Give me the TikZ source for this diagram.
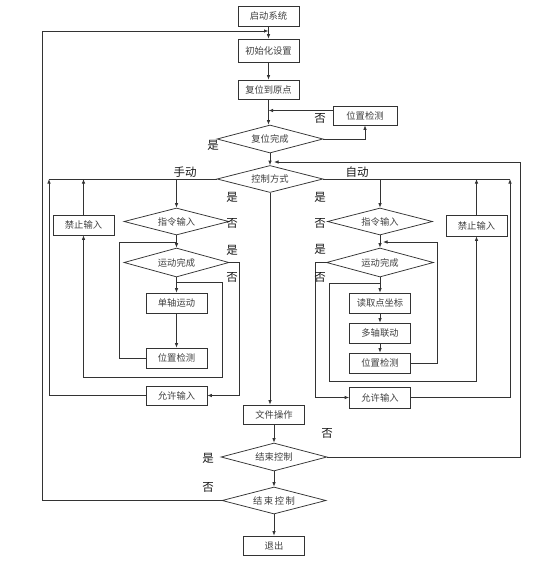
\documentclass[tikz,border=0pt]{standalone}
\usepackage{fontspec}
\newfontfamily\cjk{Noto Sans CJK SC}
\usetikzlibrary{shapes.geometric,arrows.meta}
\begin{document}
\begin{tikzpicture}[x=1pt,y=-1pt,
  line/.style={draw=black!80, line width=0.75pt},
  arr/.style={line, -{Latex[length=4.5pt,width=3.5pt]}},
  box/.style={draw=black!80, line width=0.75pt, rectangle, minimum width=61pt, minimum height=20pt, inner sep=0pt, font=\cjk\fontsize{9.3}{10}\selectfont, text=black!75},
  dia/.style={draw=black!80, line width=0.75pt, diamond, aspect=4, minimum width=106pt, minimum height=28pt, inner sep=0pt, font=\cjk\fontsize{9.3}{10}\selectfont, text=black!75},
  lab/.style={font=\cjk\fontsize{11.5}{12}\selectfont, text=black!90, inner sep=0pt}
]
\fill[white] (0,0) rectangle (552,562);
\useasboundingbox (0,0) rectangle (552,562);

% top column
\node[box] (start) at (268.5,16) {启动系统};
\node[box, minimum height=23pt] (init) at (268.5,50.5) {初始化设置};
\node[box, minimum height=19pt] (reset) at (268.5,89.5) {复位到原点};
\node[box, minimum width=64pt, minimum height=19pt] (pc0) at (365,115.5) {位置检测};
\node[dia] (d1) at (270,139) {复位完成};
\node[dia, minimum height=27pt] (d2) at (270,179) {控制方式};

% left column
\node[dia, minimum width=105pt, minimum height=27pt] (dL1) at (176.5,221.5) {指令输入};
\node[dia, minimum width=105pt, minimum height=29pt] (dL2) at (176.5,262.5) {运动完成};
\node[box] (forbidL) at (83.5,225) {禁止输入};
\node[box] (axisL) at (176.5,303) {单轴运动};
\node[box] (posL) at (176.5,358) {位置检测};
\node[box, minimum height=19pt] (allowL) at (176.5,395.5) {允许输入};

% right column
\node[dia, minimum width=105pt, minimum height=27pt] (dR1) at (380,221.5) {指令输入};
\node[dia, minimum width=107pt, minimum height=29pt] (dR2) at (380,262.5) {运动完成};
\node[box, minimum height=21pt] (forbidR) at (476.5,225.5) {禁止输入};
\node[box] (readR) at (380,303) {读取点坐标};
\node[box] (multiR) at (380,333) {多轴联动};
\node[box] (posR) at (380,363) {位置检测};
\node[box, minimum height=21pt] (allowR) at (380,397.5) {允许输入};

% bottom column
\node[box, minimum height=19pt] (file) at (274,414.5) {文件操作};
\node[dia] (dE1) at (274,457) {结束控制};
\node[dia, minimum width=104pt, minimum height=27pt] (dE2) at (274,500.5) {结\,束\,控\,制};
\node[box, minimum height=19pt] (exit) at (274,545.5) {退出};

% coordinates
\coordinate (pcin) at ([yshift=5pt]pc0.west);
\coordinate (rtop) at (520,162);
\coordinate (lo1) at (49,179);
\coordinate (jL) at (176.5,179);
\coordinate (lpL) at (119,242);
\coordinate (bL) at (176.5,282);
\coordinate (cL) at (222,377);
\coordinate (ro1) at (510,179);
\coordinate (jR) at (380,179);
\coordinate (lpR) at (437,242);
\coordinate (bR) at (380,283);
\coordinate (cR) at (329,381);
\coordinate (lo2) at (42,31);

% top connectors
\draw[arr] (start) -- (init);
\draw[arr] (init) -- (reset);
\draw[arr] (reset.south) -- (reset.south |- d1.north);
\draw[arr] (pcin) -- (pcin -| reset.south);
\draw[arr] (d1.east) -| (pc0.south);
\draw[arr] (d1.south) -- (d2.north);
\draw[arr] (dE1.east) -| (rtop) -- ([xshift=4pt]rtop -| d2.north);

% left connectors
\draw[line] (d2.west) -- (lo1);
\draw[arr] (jL) -- (dL1.north);
\draw[arr] (forbidL.north) -- (forbidL.north |- lo1);
\draw[arr] (allowL.west) -| (lo1);
\draw[arr] (dL1.south) -- (dL2.north);
\draw[line] (posL.west) -| (lpL) -- (lpL -| dL2.north);
\draw[arr] (dL2.east) -- ++(10,0) |- (allowL.east);
\draw[arr] (dL2.south) -- (axisL.north);
\draw[arr] (bL) -| (cL) -| (forbidL.south);
\draw[arr] (axisL) -- (posL);

% right connectors
\draw[line] (d2.east) -- (ro1);
\draw[arr] (jR) -- (dR1.north);
\draw[arr] (forbidR.north) -- (forbidR.north |- ro1);
\draw[arr] (allowR.east) -| (ro1);
\draw[arr] (dR1.south) -- (dR2.north);
\draw[arr] (posR.east) -| (lpR) -- ([xshift=3pt]lpR -| dR2.north);
\draw[arr] (dR2.west) -- ++(-11,0) |- (allowR.west);
\draw[arr] (bR) -| (cR) -| (forbidR.south);
\draw[arr] (dR2.south) -- (readR.north);
\draw[arr] (readR) -- (multiR);
\draw[arr] (multiR) -- (posR);

% bottom connectors
\draw[arr] (d2.south) -- (d2.south |- file.north);
\draw[arr] (file) -- (dE1);
\draw[arr] (dE1) -- (dE2);
\draw[arr] (dE2) -- (exit);
\draw[arr] (dE2.west) -| (lo2) -- (lo2 -| init.north);

% labels
\node[lab] (l1) at (320,118) {否};
\node[lab] (l2) at (213,145) {是};
\node[lab] (l3) at (185,172) {手动};
\node[lab] (l4) at (357,172) {自动};
\node[lab] (l5) at (232,197) {是};
\node[lab] (l6) at (232,223) {否};
\node[lab] (l7) at (232,250) {是};
\node[lab] (l8) at (232,277) {否};
\node[lab] (l9) at (320,197) {是};
\node[lab] (l10) at (320,223) {否};
\node[lab] (l11) at (320,249) {是};
\node[lab] (l12) at (320,277) {否};
\node[lab] (l13) at (208,458) {是};
\node[lab] (l14) at (327,433) {否};
\node[lab] (l15) at (208,487) {否};
\end{tikzpicture}
\end{document}
